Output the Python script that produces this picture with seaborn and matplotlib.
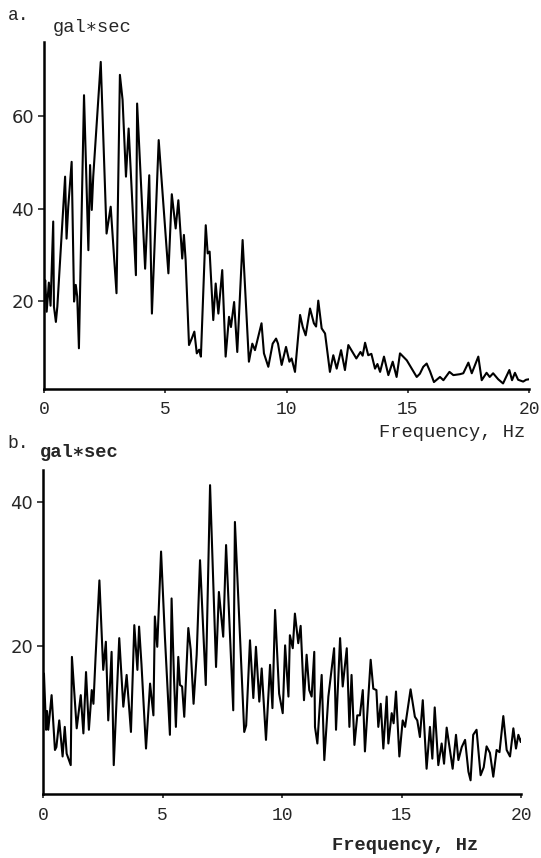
import matplotlib
matplotlib.use("Agg")
import matplotlib.pyplot as plt
import seaborn as sns

# spectrum a
freq_a = [0.00, 0.05, 0.11, 0.20, 0.27, 0.38, 0.41, 0.49, 0.55, 0.87, 0.93, 1.00, 1.14, 1.24, 1.31,
          1.37, 1.44, 1.65, 1.83, 1.90, 1.97, 2.03, 2.34, 2.58, 2.75, 2.99, 3.13, 3.24, 3.38, 3.49,
          3.79, 3.84, 4.17, 4.34, 4.45, 4.73, 5.13, 5.27, 5.43, 5.54, 5.70, 5.77, 5.84, 5.98, 6.10,
          6.20, 6.30, 6.40, 6.47, 6.67, 6.75, 6.83, 6.98, 7.08, 7.19, 7.35, 7.49, 7.63, 7.71, 7.84,
          7.97, 8.19, 8.45, 8.59, 8.70, 8.97, 9.07, 9.25, 9.43, 9.57, 9.65, 9.80, 9.98, 10.12, 10.21,
          10.35, 10.56, 10.67, 10.79, 10.97, 11.13, 11.22, 11.31, 11.45, 11.59, 11.79, 11.93, 12.07,
          12.25, 12.41, 12.55, 12.88, 13.05, 13.14, 13.24, 13.37, 13.50, 13.65, 13.75, 13.86, 14.02,
          14.20, 14.38, 14.54, 14.68, 14.96, 15.37, 15.50, 15.64, 15.78, 15.92, 16.08, 16.33, 16.47,
          16.72, 16.88, 17.15, 17.29, 17.50, 17.64, 17.91, 18.05, 18.25, 18.38, 18.52, 18.73, 18.93,
          19.19, 19.30, 19.42, 19.55, 19.76, 19.88, 20.00]
amp_a = [22.0, 24.5, 17.7, 24.0, 19.0, 37.2, 18.8, 15.5, 18.8, 46.9, 33.5, 40.4, 50.1, 19.9, 23.5,
         21.0, 9.8, 64.5, 31.0, 49.4, 39.7, 46.9, 71.7, 34.6, 40.4, 21.7, 68.9, 63.5, 46.9, 57.3,
         25.6, 62.7, 27.0, 47.2, 17.3, 54.8, 26.0, 43.1, 35.7, 41.8, 29.2, 34.3, 28.9, 10.5, 12.0,
         13.4, 8.7, 9.5, 8.0, 36.4, 30.3, 30.7, 15.9, 23.8, 17.3, 26.7, 8.0, 16.6, 14.4, 19.8,
         9.0, 33.2, 6.9, 10.8, 9.4, 15.2, 8.7, 5.8, 10.8, 11.9, 10.8, 6.2, 10.1, 6.9, 7.6,
         4.7, 17.0, 14.4, 12.6, 18.4, 15.2, 14.5, 20.1, 14.1, 13.0, 4.7, 8.3, 5.4,
         9.4, 5.1, 10.5, 7.6, 9.0, 8.2, 11.0, 8.3, 8.6, 5.4, 6.4, 4.7, 8.0,
         4.0, 6.9, 3.6, 8.7, 7.2, 3.6, 4.3, 5.8, 6.5, 4.8, 2.5, 3.6, 2.9,
         4.7, 4.0, 4.2, 4.4, 6.7, 4.4, 8.0, 2.9, 4.5, 3.6, 4.4, 3.1, 2.2,
         5.1, 2.9, 4.5, 3.0, 2.6, 3.0, 3.1]

# spectrum b
freq_b = [0.00, 0.04, 0.13, 0.17, 0.22, 0.36, 0.50, 0.56, 0.68, 0.82, 0.91, 0.99, 1.16, 1.21, 1.41,
          1.58, 1.69, 1.80, 1.92, 2.04, 2.11, 2.20, 2.36, 2.52, 2.63, 2.73, 2.87, 2.96, 3.19, 3.36,
          3.50, 3.68, 3.82, 3.95, 4.02, 4.12, 4.31, 4.48, 4.62, 4.68, 4.78, 4.94, 5.10, 5.31, 5.38,
          5.48, 5.56, 5.66, 5.73, 5.82, 5.91, 6.08, 6.18, 6.30, 6.43, 6.57, 6.81, 6.99, 7.24, 7.36,
          7.54, 7.66, 7.96, 8.03, 8.42, 8.50, 8.66, 8.80, 8.91, 9.05, 9.15, 9.33, 9.50, 9.60, 9.71,
          9.88, 10.03, 10.13, 10.27, 10.33, 10.45, 10.54, 10.68, 10.78, 10.92, 11.03, 11.14, 11.24,
          11.35, 11.38, 11.48, 11.66, 11.77, 11.94, 12.18, 12.26, 12.43, 12.54, 12.71, 12.82, 12.91,
          13.03, 13.15, 13.26, 13.38, 13.47, 13.71, 13.82, 13.95, 14.03, 14.13, 14.24, 14.38, 14.45,
          14.59, 14.67, 14.77, 14.91, 15.05, 15.15, 15.38, 15.56, 15.66, 15.77, 15.89, 16.05, 16.19,
          16.29, 16.39, 16.54, 16.68, 16.78, 16.89, 17.14, 17.28, 17.38, 17.52, 17.66, 17.80, 17.89,
          18.00, 18.14, 18.31, 18.44, 18.56, 18.70, 18.84, 18.98, 19.10, 19.26, 19.40, 19.54, 19.68,
          19.79, 19.89, 19.99, 20.05]
amp_b = [10.7, 16.2, 8.4, 11.0, 8.4, 13.2, 5.6, 6.0, 9.7, 4.7, 8.8, 5.1, 3.5, 18.5, 8.6,
         13.2, 7.9, 16.4, 8.4, 13.9, 12.0, 18.5, 29.1, 16.7, 20.6, 9.7, 19.2, 3.5, 21.1, 11.6,
         16.0, 8.1, 22.9, 16.7, 22.7, 17.5, 5.8, 14.8, 10.4, 24.1, 19.9, 33.1, 21.3, 7.7, 26.6,
         15.7, 8.8, 18.5, 14.6, 14.4, 10.2, 22.5, 19.5, 12.0, 18.8, 31.9, 14.6, 42.3, 17.1, 27.5,
         21.3, 34.0, 11.1, 37.2, 8.1, 9.0, 20.8, 12.8, 19.9, 12.3, 16.9, 7.0, 17.4, 11.4, 25.0,
         13.4, 10.7, 20.1, 13.0, 21.5, 19.7, 24.5, 20.4, 22.8, 12.5, 18.8, 13.9, 13.0,
         19.2, 8.8, 6.5, 16.0, 4.2, 13.0, 19.7, 8.4, 21.1, 14.4, 19.7, 8.8, 16.0,
         6.3, 10.4, 10.4, 13.9, 5.4, 18.1, 14.1, 13.9, 8.8, 12.0, 5.8, 13.0, 6.5,
         10.7, 9.3, 13.7, 4.7, 9.7, 8.8, 14.0, 10.2, 9.7, 7.4, 12.5, 3.0, 8.8,
         4.4, 11.5, 3.5, 6.5, 3.7, 8.7, 3.0, 7.7, 4.2, 6.0, 7.0, 2.6, 1.4,
         7.7, 8.4, 2.1, 3.2, 6.1, 5.2, 1.9, 5.6, 5.3, 10.3, 5.6, 4.7, 8.6,
         5.8, 7.7, 6.7, 7.4]

x_ticks = [0, 5, 10, 15, 20]
x_tick_labels = ["0", "5", "10", "15", "20"]
y_ticks_a = [20, 40, 60]
y_ticks_b = [20, 40]

sns.set_style("ticks")
plt.rcParams["font.family"] = ["DejaVu Sans"]
mono = ["Liberation Mono", "DejaVu Sans Mono"]

W, H = 541, 858
fig = plt.figure(figsize=(W / 100, H / 100), dpi=100)

# axes boxes in pixels: left, bottom, right, top
ax_a = fig.add_axes([44 / W, 1 - 389 / H, (529 - 44) / W, (389 - 42) / H])
ax_b = fig.add_axes([43 / W, 1 - 794 / H, (521 - 43) / W, (794 - 470) / H])

panels = [(ax_a, freq_a, amp_a, (1, 76), y_ticks_a),
          (ax_b, freq_b, amp_b, (-0.5, 44.4), y_ticks_b)]

for ax, fx, fy, ylim, yt in panels:
    sns.lineplot(x=fx, y=fy, ax=ax, color="black", linewidth=1.5)
    ax.set_xlim(0, 20)
    ax.set_ylim(*ylim)
    ax.set_xticks(x_ticks)
    ax.set_xticklabels(x_tick_labels, fontfamily=mono, fontsize=13)
    ax.set_yticks(yt)
    ax.set_yticklabels([str(v) for v in yt], fontsize=13)
    ax.tick_params(axis="x", direction="out", length=3, width=1.2, pad=6)
    ax.tick_params(axis="y", direction="out", length=4, width=1.2, pad=3)
    sns.despine(ax=ax)
    for s in ["left", "bottom"]:
        ax.spines[s].set_linewidth(1.8)
        ax.spines[s].set_color("black")
    ax.set_xlabel("")
    ax.set_ylabel("")

fig.text(8 / W, 1 - 15 / H, "a.", family=mono, fontsize=13, ha="left", va="center")
fig.text(53 / W, 1 - 27 / H, "gal\u2217sec", family=mono, fontsize=13.5, ha="left", va="center")
fig.text(525 / W, 1 - 433 / H, "Frequency, Hz", family=mono, fontsize=13.5, ha="right", va="center")

fig.text(7 / W, 1 - 444 / H, "b.", family=mono, fontsize=13, ha="left", va="center")
fig.text(40 / W, 1 - 452 / H, "gal\u2217sec", family=mono, fontsize=13.5, ha="left", va="center",
         fontweight="bold")
fig.text(405 / W, 1 - 846 / H, "Frequency, Hz", family=mono, fontsize=13.5, ha="center", va="center",
         fontweight="bold")

fig.savefig("out.png", dpi=100)
